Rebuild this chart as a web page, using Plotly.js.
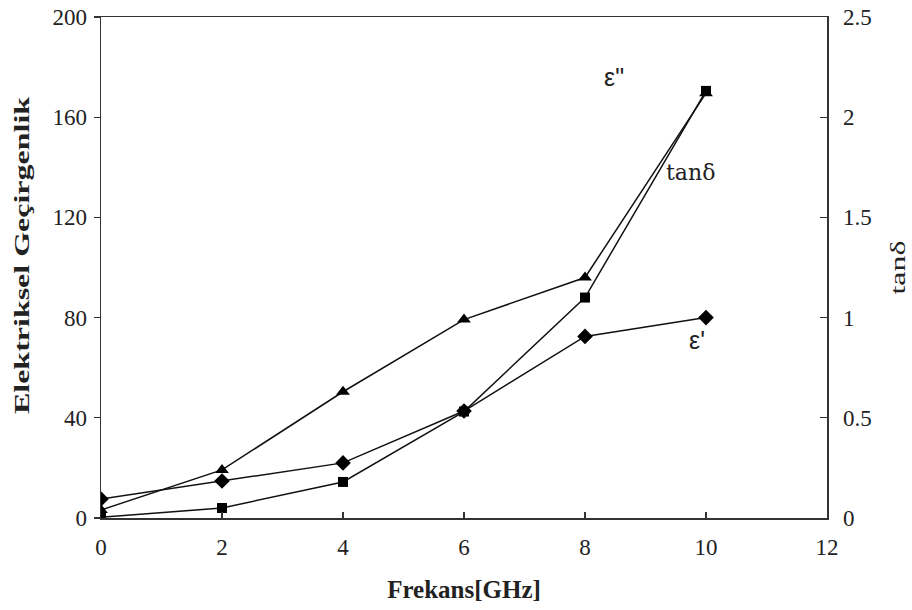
<!DOCTYPE html>
<html><head><meta charset="utf-8">
<script src="https://cdn.plot.ly/plotly-3.0.1.min.js"></script>
<style>html,body{margin:0;padding:0;background:#fff}</style>
</head><body>
<div id="chart" style="width:912px;height:610px"></div>
<script>
const freq = [0, 2, 4, 6, 8, 10];
const epsReal = [7.6, 14.8, 22, 42.7, 72.5, 80];     // ε'
const epsImag = [0.3, 4, 14.4, 42.5, 88, 170.5];     // ε''
const tanDelta = [0.04, 0.24, 0.63, 0.99, 1.2, 2.12]; // tanδ (right axis)
const xTicks = [0, 2, 4, 6, 8, 10, 12];
const yTicks = [0, 40, 80, 120, 160, 200];
const y2Ticks = [0, 0.5, 1, 1.5, 2, 2.5];

const serif = 'Liberation Serif, Times New Roman, serif';
const lineStyle = {color: '#111', width: 1.5};
const tickFont = {family: serif, size: 23, color: '#222'};

const traces = [
  {x: freq, y: epsReal, mode: 'lines+markers', line: lineStyle,
   marker: {symbol: 'diamond', size: 12, color: '#000'}, name: "ε'"},
  {x: freq, y: epsImag, mode: 'lines+markers', line: lineStyle,
   marker: {symbol: 'square', size: 10, color: '#000'}, name: 'ε"'},
  {x: freq, y: tanDelta, yaxis: 'y2', mode: 'lines+markers', line: lineStyle,
   marker: {symbol: 'triangle-up', size: 12, color: '#000'}, name: 'tanδ'}
];

const layout = {
  width: 912, height: 610,
  margin: {l: 101, r: 85, t: 17, b: 92},
  paper_bgcolor: '#fff', plot_bgcolor: '#fff',
  showlegend: false,
  font: {family: serif, size: 23, color: '#222'},
  xaxis: {
    range: [0, 12], tickvals: xTicks, ticktext: xTicks.map(String), tickfont: tickFont,
    showgrid: false, zeroline: false, showline: true, mirror: true,
    linecolor: '#333', linewidth: 1.5,
    ticks: 'inside', ticklen: 6, tickcolor: '#333', tickwidth: 1.2,
    ticklabelstandoff: 8,
    title: {text: 'Frekans[GHz]', font: {family: serif, size: 25, color: '#222', weight: 'bold'}, standoff: 21}
  },
  yaxis: {
    range: [0, 200], tickvals: yTicks, ticktext: yTicks.map(String), tickfont: tickFont,
    showgrid: false, zeroline: false, showline: true,
    linecolor: '#333', linewidth: 1.5,
    ticks: 'outside', ticklen: 6, tickcolor: '#333', tickwidth: 1.2,
    ticklabelstandoff: 2,
    title: {text: 'Elektriksel Geçirgenlik', font: {family: serif, size: 20, color: '#222', weight: 'bold'}, standoff: 17}
  },
  yaxis2: {
    range: [0, 2.5], tickvals: y2Ticks, ticktext: y2Ticks.map(String), tickfont: tickFont,
    overlaying: 'y', side: 'right',
    showgrid: false, zeroline: false, showline: true,
    linecolor: '#333', linewidth: 1.5,
    ticks: 'inside', ticklen: 7, tickcolor: '#333', tickwidth: 1.2,
    ticklabelstandoff: 10,
    title: {text: 'tanδ', font: {family: serif, size: 22, color: '#222'}, standoff: 19}
  },
  annotations: [
    {x: 8.48, y: 176, xref: 'x', yref: 'y', text: 'ε"', showarrow: false,
     font: {family: 'Liberation Sans, Arial, sans-serif', size: 25, color: '#222'}},
    {x: 9.75, y: 138, xref: 'x', yref: 'y', text: 'tanδ', showarrow: false,
     font: {family: 'DejaVu Serif, serif', size: 22, color: '#222'}},
    {x: 9.85, y: 71, xref: 'x', yref: 'y', text: "ε'", showarrow: false,
     font: {family: 'Liberation Sans, Arial, sans-serif', size: 25, color: '#222'}}
  ]
};

Plotly.newPlot('chart', traces, layout, {displayModeBar: false, staticPlot: true}).then(gd => {
  // the reference's vertical titles are stretched along their length
  [['.g-ytitle text', 1.6, -12], ['.g-y2title text', 1.45, 0]].forEach(([sel, s, up]) => {
    const t = gd.querySelector(sel);
    if (!t) return;
    const x = parseFloat(t.getAttribute('x')), y = parseFloat(t.getAttribute('y'));
    const tr = t.getAttribute('transform') || '';
    t.setAttribute('transform', tr + ` translate(${x - up},${y}) scale(${s},1) translate(${-x},${-y})`);
  });
});
</script>
</body></html>
